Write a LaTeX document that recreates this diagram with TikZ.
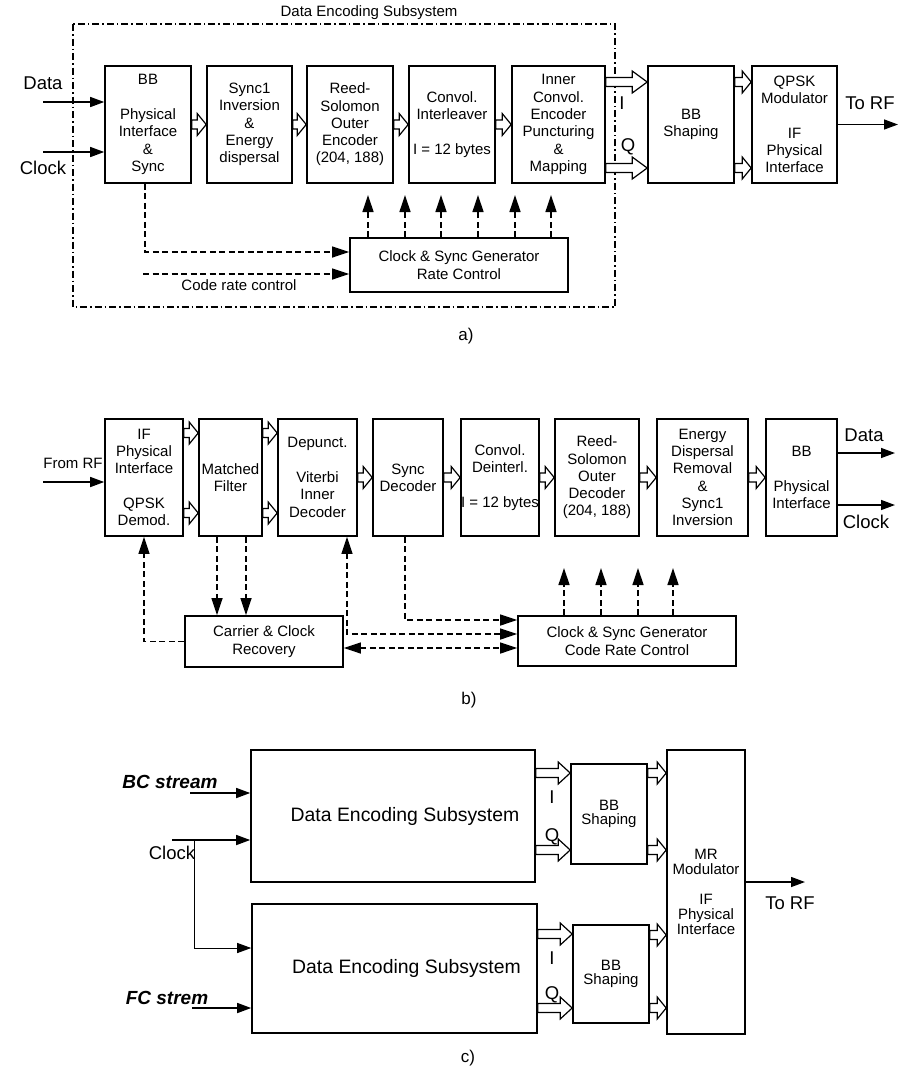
\documentclass[tikz,border=0pt]{standalone}
\usepackage{fontspec}
\setmainfont{Liberation Sans}
\usetikzlibrary{arrows.meta,calc}

\tikzset{
  blk/.style={draw, line width=1.6pt, inner sep=1pt, align=center,
    minimum height=117pt, font=\fontsize{15}{17.3}\selectfont},
  lbl/.style={font=\fontsize{18.5}{21}\selectfont},
  txt/.style={font=\fontsize{15}{17}\selectfont},
  sublbl/.style={font=\fontsize{17}{20}\selectfont},
  bi/.style={font=\fontsize{19}{22}\selectfont\bfseries\itshape},
  arr/.style={line width=1.4pt, -{Triangle[length=14pt,width=10pt]}},
  dline/.style={line width=1.3pt, dash pattern=on 6pt off 3.5pt},
  darr/.style={dline, -{Triangle[length=17pt,width=11pt]}},
  ddarr/.style={dline, {Triangle[length=17pt,width=11pt]}-{Triangle[length=17pt,width=11pt]}},
  hol/.style={line width=1.2pt, fill=white, line join=miter},
}

% hollow block arrow, from #2 to the x of #3
\newcommand{\hollow}[3][9]{%
  \draw[hol] let \p1=(#2), \p2=(#3) in
    (\x1,\y1+4.5pt) -- (\x2-#1pt,\y1+4.5pt) -- (\x2-#1pt,\y1+11pt) -- (\x2,\y1)
    -- (\x2-#1pt,\y1-11pt) -- (\x2-#1pt,\y1-4.5pt) -- (\x1,\y1-4.5pt) -- cycle;}

\begin{document}
\begin{tikzpicture}[x=1pt,y=-1pt]
\useasboundingbox (0,0) rectangle (923,1088);

% a)
\draw[line width=1.2pt, dash pattern=on 7pt off 3pt on 1.5pt off 3pt] (73,24) rectangle (615,307);
\draw (369,13) node[txt] (destitle) {Data Encoding Subsystem};

\draw (148,124.5) node[blk, minimum width=86pt] (bb) {BB\\[17.3pt]Physical\\Interface\\\&\\Sync};
\draw (249.5,124.5) node[blk, minimum width=85pt] (sync) {Sync1\\Inversion\\\&\\Energy\\dispersal};
\draw (350,124.5) node[blk, minimum width=86pt] (rs) {Reed-\\Solomon\\Outer\\Encoder\\(204, 188)};
\draw (452,124.5) node[blk, minimum width=86pt] (conv) {Convol.\\Interleaver\\[17.3pt]I = 12 bytes};
\draw (558.5,124.5) node[blk, minimum width=93pt] (inner) {Inner\\Convol.\\Encoder\\Puncturing\\\&\\Mapping};
\draw (691,124.5) node[blk, minimum width=86pt] (bbs) {BB\\Shaping};
\draw (794.5,124.5) node[blk, minimum width=85pt] (qpsk) {QPSK\\Modulator\\[17.3pt]IF\\Physical\\Interface};
\draw (459,265) node[blk, minimum width=218pt, minimum height=54pt] (csga) {Clock \& Sync Generator\\Rate Control};

\coordinate (din) at (43,102);
\coordinate (cin) at (43,152);
\draw (43,83) node[lbl] (ldata) {Data};
\draw (43,168) node[lbl] (lclock) {Clock};
\draw[arr] (din) -- (din -| bb.west);
\draw[arr] (cin) -- (cin -| bb.west);

\hollow{bb.east}{sync.west}
\hollow{sync.east}{rs.west}
\hollow{rs.east}{conv.west}
\hollow{conv.east}{inner.west}
\hollow[15]{[yshift=42.5pt]inner.east}{bbs.west}
\hollow[15]{[yshift=-43.5pt]inner.east}{bbs.west}
\hollow{[yshift=42.5pt]bbs.east}{qpsk.west}
\hollow{[yshift=-43.5pt]bbs.east}{qpsk.west}
\draw (622,103) node[lbl] (ia) {I};
\draw (628,147) node[lbl] (qa) {Q};

\coordinate (rfa) at (898,124.5);
\draw[arr] (qpsk.east) -- (rfa);
\draw (870,103) node[lbl] (torfa) {To RF};

\draw[darr] ([xshift=-3pt]bb.south) |- ([yshift=13pt]csga.west);
\coordinate (crc) at (143,274);
\draw[darr] (crc) -- (crc -| csga.west);
\draw (239,285) node[txt] (lcrc) {Code rate control};
\foreach \x in {368,405,441,478,515,551}
  \draw[darr] (\x,0 |- csga.north) -- (\x,195);
\draw (466,336) node[sublbl] (capa) {a)};

% b)
\draw (144,477.5) node[blk, minimum width=78pt] (ifb) {IF\\Physical\\Interface\\[17.3pt]QPSK\\Demod.};
\draw (230.5,477.5) node[blk, minimum width=63pt] (mf) {Matched\\Filter};
\draw (317.5,477.5) node[blk, minimum width=79pt] (dep) {Depunct.\\[17.3pt]Viterbi\\Inner\\Decoder};
\draw (408,477.5) node[blk, minimum width=70pt] (sdec) {Sync\\Decoder};
\draw (500,477.5) node[blk, minimum width=78pt, inner xsep=0pt] (cdi) {Convol.\\Deinterl.\\[17.3pt]I = 12 bytes};
\draw (597,477.5) node[blk, minimum width=84pt] (rsd) {Reed-\\Solomon\\Outer\\Decoder\\(204, 188)};
\draw (702.5,477.5) node[blk, minimum width=91pt] (edr) {Energy\\Dispersal\\Removal\\\&\\Sync1\\Inversion};
\draw (801.5,477.5) node[blk, minimum width=71pt] (bbp) {BB\\[17.3pt]Physical\\Interface};
\draw (264,641.5) node[blk, minimum width=158pt, minimum height=51pt] (ccr) {Carrier \& Clock\\Recovery};
\draw (627,641) node[blk, minimum width=218pt, minimum height=50pt] (csgb) {Clock \& Sync Generator\\Code Rate Control};

\coordinate (rfin) at (43,482);
\draw[arr] (rfin) -- (rfin -| ifb.west);
\draw (73,463) node[txt] (fromrf) {From RF};

\hollow{[yshift=44.5pt]ifb.east}{mf.west}
\hollow{[yshift=-35.5pt]ifb.east}{mf.west}
\hollow{[yshift=44.5pt]mf.east}{dep.west}
\hollow{[yshift=-35.5pt]mf.east}{dep.west}
\hollow{dep.east}{sdec.west}
\hollow{sdec.east}{cdi.west}
\hollow{cdi.east}{rsd.west}
\hollow{rsd.east}{edr.west}
\hollow{edr.east}{bbp.west}

\coordinate (dout) at (895,453);
\coordinate (cout) at (895,505);
\draw[arr] (dout -| bbp.east) -- (dout);
\draw[arr] (cout -| bbp.east) -- (cout);
\draw (864,435) node[lbl] (ldout) {Data};
\draw (866,522) node[lbl] (lcout) {Clock};

\draw[darr] (ccr.west) -| (ifb.south);
\draw[darr] ([xshift=-13.5pt]mf.south) -- ([xshift=-13.5pt]mf.south |- ccr.north);
\draw[darr] ([xshift=15.5pt]mf.south) -- ([xshift=15.5pt]mf.south |- ccr.north);
\draw[ddarr] ([xshift=29.5pt]dep.south) |- ([yshift=7pt]csgb.west);
\draw[darr] ([xshift=-3pt]sdec.south) |- ([yshift=21pt]csgb.west);
\draw[ddarr] ([yshift=-6.5pt]ccr.east) -- ([yshift=-6.5pt]ccr.east -| csgb.west);
\foreach \x in {564,601,638,673}
  \draw[darr] (\x,0 |- csgb.north) -- (\x,568);
\draw (469,700) node[sublbl] (capb) {b)};

% c)
\draw (393,816) node[blk, minimum width=284pt, minimum height=132pt, font=\fontsize{19.4}{22}\selectfont] (desa) {\hspace*{24pt}Data Encoding Subsystem};
\draw (394.5,968.5) node[blk, minimum width=285pt, minimum height=129pt, font=\fontsize{19.4}{22}\selectfont] (desb) {\hspace*{24pt}Data Encoding Subsystem};
\draw (609,814) node[blk, minimum width=76pt, minimum height=100pt, font=\fontsize{15}{14}\selectfont] (bbsa) {BB\\Shaping};
\draw (611,974) node[blk, minimum width=76pt, minimum height=98pt, font=\fontsize{15}{14}\selectfont] (bbsb) {BB\\Shaping};
\draw (706,892) node[blk, minimum width=78pt, minimum height=284pt, font=\fontsize{15}{15}\selectfont] (mr) {MR\\Modulator\\[15pt]IF\\Physical\\Interface};

\coordinate (bcin) at (190,793);
\coordinate (clkin) at (172,840);
\coordinate (clkbr) at (194,840);
\coordinate (fcin) at (192,1008);
\draw[arr] (bcin) -- (bcin -| desa.west);
\draw[arr] (clkin) -- (clkin -| desa.west);
\draw[arr, line width=1pt] (clkbr) |- ([yshift=20.5pt]desb.west);
\draw[arr] (fcin) -- (fcin -| desb.west);
\draw (170,782) node[bi] (lbc) {BC stream};
\draw (172,853) node[lbl] (lclkc) {Clock};
\draw (167,998) node[bi] (lfc) {FC strem};

\hollow[12]{[yshift=43pt]desa.east}{bbsa.west}
\hollow[12]{[yshift=-34pt]desa.east}{bbsa.west}
\hollow[12]{[yshift=34.5pt]desb.east}{bbsb.west}
\hollow[12]{[yshift=-39.5pt]desb.east}{bbsb.west}
\hollow{[yshift=41pt]bbsa.east}{mr.west}
\hollow{[yshift=-36pt]bbsa.east}{mr.west}
\hollow{[yshift=39pt]bbsb.east}{mr.west}
\hollow{[yshift=-34pt]bbsb.east}{mr.west}
\draw (552,797) node[lbl] (ic1) {I};
\draw (552,837) node[lbl] (qc1) {Q};
\draw (552,958) node[lbl] (ic2) {I};
\draw (552,995) node[lbl] (qc2) {Q};

\coordinate (rfc) at (805,882);
\draw[arr] (rfc -| mr.east) -- (rfc);
\draw (790,903) node[lbl] (torfc) {To RF};
\draw (468,1058) node[sublbl] (capc) {c)};

\end{tikzpicture}
\end{document}
